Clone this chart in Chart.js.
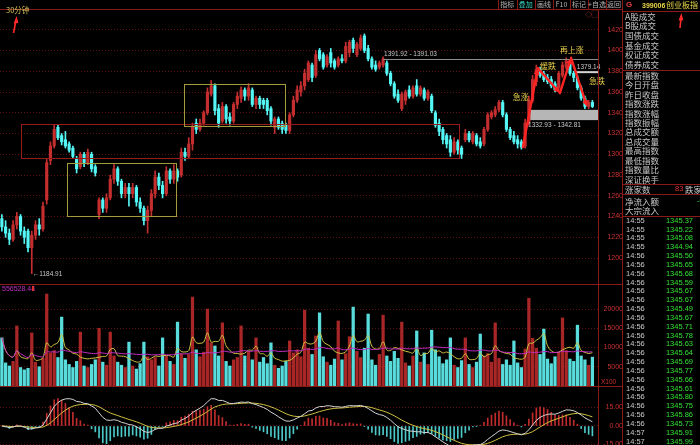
<!DOCTYPE html>
<html>
<head>
<meta charset="utf-8">
<title>399006 创业板指 30分钟</title>
<script src="https://cdn.jsdelivr.net/npm/chart.js@4.4.1/dist/chart.umd.min.js"></script>
<style>
  html, body { margin: 0; padding: 0; background: #000; }
  #wrap { position: relative; width: 700px; height: 445px; overflow: hidden; background: #000; }
  canvas { position: absolute; left: 0; }
  .t { position: absolute; white-space: nowrap; font-family: "Noto Sans CJK SC", sans-serif; }
  .n { font-family: "Liberation Sans", Arial, sans-serif; }
  svg { position: absolute; left: 0; top: 0; }
</style>
</head>
<body>
<div id="wrap">
  <canvas id="price" width="623" height="275" style="top:9px"></canvas>
  <canvas id="vol" width="623" height="102" style="top:284px"></canvas>
  <canvas id="macd" width="623" height="59" style="top:386px"></canvas>
</div>
<script>
// 30 minute candles, index 0..158
const O = [
  1238,1230,1224,1218,1232,1240,1226,1226,1210,1222,
  1232,1228,1256,1294,1308,1326,1318,1314,1310,1306,
  1296,1288,1300,1292,1300,1288,1242,1256,1248,1258,
  1276,1286,1274,1262,1268,1262,1268,1254,1248,1236,
  1246,1262,1278,1270,1262,1284,1276,1284,1280,1302,
  1298,1310,1330,1324,1330,1340,1358,1366,1344,1332,
  1346,1336,1332,1348,1354,1362,1356,1362,1348,1354,
  1352,1352,1344,1326,1334,1330,1328,1323,1338,1352,
  1360,1366,1372,1386,1376,1400,1396,1386,1398,1390,
  1386,1392,1390,1398,1410,1396,1402,1414,1402,1392,
  1386,1384,1386,1388,1378,1368,1358,1344,1352,1362,
  1356,1366,1358,1362,1354,1356,1340,1330,1324,1318,
  1314,1302,1312,1306,1314,1320,1312,1318,1312,1310,
  1324,1336,1338,1343,1350,1338,1324,1318,1314,1312,
  1308,1330,1352,1370,1382,1378,1374,1372,1368,1364,
  1376,1384,1388,1378,1374,1364,1354,1346,1350
];
const H = [
  1242,1236,1228,1236,1244,1242,1230,1228,1226,1236,
  1238,1254,1295,1312,1328,1328,1320,1322,1312,1308,
  1298,1302,1302,1305,1302,1290,1258,1258,1262,1280,
  1290,1288,1276,1272,1272,1272,1270,1258,1250,1250,
  1266,1284,1282,1274,1288,1286,1290,1286,1306,1306,
  1316,1330,1334,1334,1342,1364,1371,1368,1348,1350,
  1348,1340,1350,1360,1365,1364,1368,1364,1356,1356,
  1354,1354,1346,1336,1336,1332,1330,1340,1356,1366,
  1370,1382,1390,1388,1400,1402,1398,1396,1402,1392,
  1394,1396,1408,1410,1412,1408,1415,1416,1405,1394,
  1390,1390,1394,1390,1380,1370,1362,1360,1362,1366,
  1366,1372,1366,1364,1362,1358,1342,1334,1326,1320,
  1318,1316,1314,1308,1324,1322,1322,1320,1316,1326,
  1340,1342,1346,1352,1352,1340,1326,1322,1318,1314,
  1334,1356,1376,1386,1384,1380,1377,1375,1370,1380,
  1389,1393,1390,1380,1376,1366,1356,1352,1352
];
const L = [
  1226,1220,1213,1216,1228,1222,1214,1206,1185,1218,
  1222,1226,1252,1290,1306,1314,1309,1306,1302,1296,
  1282,1286,1288,1290,1283,1279,1238,1244,1244,1256,
  1272,1270,1258,1258,1250,1258,1250,1244,1232,1224,
  1240,1258,1266,1258,1260,1272,1272,1274,1278,1294,
  1296,1304,1320,1322,1328,1338,1356,1338,1326,1330,
  1330,1328,1330,1344,1350,1352,1352,1346,1344,1344,
  1344,1338,1328,1320,1324,1320,1320,1320,1336,1350,
  1356,1362,1370,1370,1374,1390,1382,1384,1384,1382,
  1384,1388,1388,1394,1398,1394,1400,1398,1390,1382,
  1380,1382,1384,1376,1366,1354,1350,1342,1348,1354,
  1354,1356,1356,1352,1352,1340,1326,1318,1310,1306,
  1298,1300,1300,1296,1312,1312,1310,1308,1306,1308,
  1322,1334,1336,1341,1336,1322,1314,1310,1306,1305,
  1306,1328,1350,1366,1374,1370,1368,1364,1360,1362,
  1374,1382,1376,1370,1362,1352,1344,1344,1345
];
const C = [
  1230,1224,1218,1232,1240,1226,1220,1210,1222,1232,
  1228,1250,1292,1308,1324,1316,1312,1308,1304,1298,
  1286,1300,1292,1302,1286,1282,1256,1248,1258,1276,
  1286,1274,1262,1268,1262,1268,1254,1248,1236,1246,
  1262,1278,1270,1262,1284,1276,1284,1278,1302,1298,
  1310,1326,1324,1330,1340,1360,1366,1342,1330,1346,
  1334,1332,1348,1356,1362,1356,1364,1348,1354,1348,
  1348,1342,1332,1334,1326,1324,1323,1338,1352,1362,
  1366,1378,1388,1374,1396,1392,1384,1394,1388,1384,
  1392,1390,1404,1408,1402,1406,1412,1400,1392,1384,
  1382,1388,1392,1378,1368,1356,1352,1358,1360,1356,
  1364,1358,1364,1354,1360,1342,1328,1322,1314,1310,
  1302,1312,1304,1300,1320,1314,1320,1310,1308,1324,
  1338,1340,1343,1350,1338,1324,1316,1312,1310,1307,
  1330,1352,1372,1382,1376,1372,1370,1366,1362,1378,
  1386,1390,1378,1374,1364,1354,1346,1350,1346
];
// volume (x100)
const V = [
  12500,6000,5200,6400,15600,4800,4200,4600,13800,6200,
  5000,7200,23900,8600,9200,7400,17900,6800,5600,4800,
  6400,14000,5200,4800,5600,6800,15000,6200,5400,14000,
  7800,6200,5400,4800,11400,5200,4400,5800,11400,7600,
  6800,7400,5200,12500,7800,6400,5600,16600,8400,7200,
  8200,23100,9400,7600,8800,20000,11200,10400,7800,16400,
  6400,5200,6800,7400,15600,7800,9000,6800,12500,6200,
  7400,5800,11200,5400,4600,5200,6400,11700,8600,9400,
  7600,19700,9800,8200,13000,19000,7600,6200,5400,7000,
  16900,6800,8400,12800,20500,9000,7400,9800,18700,6800,
  5400,8200,18400,7800,6400,9000,7200,16600,6000,5200,
  7800,14300,6200,8600,5600,14500,9400,7600,5800,6800,
  12500,5400,4800,6600,12500,5600,4800,6200,13500,7800,
  8400,6200,16400,7200,5600,6800,5400,11700,6000,4800,
  9600,22800,12400,9800,8200,14800,7000,5800,7600,8800,
  17700,9200,7000,6400,15800,7800,6800,5400,7500
];

const priceTicks = [1200, 1220, 1240, 1260, 1280, 1300, 1320, 1340, 1360, 1380, 1400, 1420];
const volTicks = [5000, 10000, 15000, 20000];
const macdTicks = [-15, 0, 15];

// drawn marks in data units: [index from, index to, price low, price high]
const redBox = [5.1, 122.3, 1296.5, 1329.3];
const boxA = [17.4, 46.6, 1240.5, 1291.7];
const boxB = [48.7, 75.8, 1327.4, 1367.9];
const supportBand = [140.8, 1332.93, 1342.81];
const highLine = [102, 1391.92];
const lastHigh = [153.3, 1379.14];
const lowMark = [8, 1184.91];
const arrowPts = [[139.4, 1307], [143.4, 1383], [149.3, 1359], [152.3, 1393], [156.6, 1345.7]];
const notes = [['急涨', 138.8, 1355.5], ['缓跌', 146.1, 1385], ['再上涨', 152.5, 1401], ['急跌', 159.2, 1371]];

// right panel text
const groupA = ['A股成交', 'B股成交', '国债成交', '基金成交', '权证成交', '债券成交'];
const groupB = ['最新指数', '今日开盘', '昨日收盘', '指数涨跌', '指数涨幅', '指数振幅', '总成交额', '总成交量', '最高指数', '最低指数', '指数量比', '深证换手'];
const tickTimes = ['14:55','14:55','14:55','14:55','14:56','14:56','14:56','14:56','14:56','14:56','14:56','14:56','14:56',
  '14:56','14:56','14:56','14:56','14:56','14:56','14:56','14:56','14:56','14:56','14:56','14:57','14:57'];
const tickValues = ['1345.37','1345.22','1345.08','1344.94','1345.50','1345.65','1345.68','1345.59','1345.67','1345.67','1345.49','1345.67','1345.71',
  '1345.78','1345.63','1345.64','1345.69','1345.77','1345.66','1345.61','1345.80','1345.75','1345.86','1345.73','1345.91','1345.99'];
const toolButtons = ['指标', '叠加', '画线', 'F10', '标记', '+自选', '返回'];

const RED = '#c42e2e', CYAN = '#54f6f6';
const VRED = '#a82626', VCYAN = '#58dcdc';
const idx = C.map((_, i) => i);
const up = i => C[i] >= O[i];

function movAvg(arr, n) {
  return arr.map((_, i) => {
    const s = arr.slice(Math.max(0, i - n + 1), i + 1);
    return s.reduce((a, b) => a + b, 0) / s.length;
  });
}
function ema(arr, n) {
  const out = [];
  arr.forEach((v, i) => out.push(i ? (2 * v + (n - 1) * out[i - 1]) / (n + 1) : v));
  return out;
}
const e12 = ema(C, 12), e26 = ema(C, 26);
const dif = C.map((_, i) => e12[i] - e26[i]);
const dea = ema(dif, 9);
const hist = dif.map((d, i) => 2 * (d - dea[i]));
const ma5 = movAvg(V, 5), ma40 = movAvg(V, 40);

function rightAxis(min, max, ticks, fmt) {
  return {
    position: 'right', min: min, max: max,
    afterBuildTicks: s => { s.ticks = ticks.map(v => ({ value: v })); },
    afterFit: s => { s.width = 25; s.paddingTop = 0; s.paddingBottom = 0; },
    ticks: { color: '#c83232', font: { size: 7, family: 'Liberation Sans' }, padding: 1, crossAlign: 'far', callback: fmt },
    grid: { color: '#5a1212', lineWidth: 1, drawTicks: false },
    border: { display: false, dash: [1, 2] }
  };
}
const xAxis = { type: 'linear', min: -0.5, max: 159.5, display: false, offset: false };
const common = {
  responsive: false, animation: false, events: [],
  layout: { padding: 0 },
  plugins: { legend: { display: false }, tooltip: { enabled: false } }
};

const overlayPrice = {
  id: 'overlayPrice',
  beforeDatasetsDraw(chart) {
    const { ctx, scales: { x, y }, chartArea } = chart;
    const x0 = x.getPixelForValue(supportBand[0]);
    const yt = y.getPixelForValue(supportBand[2]), yb = y.getPixelForValue(supportBand[1]);
    ctx.save();
    ctx.fillStyle = '#b6b6b6';
    ctx.fillRect(x0, yt, chartArea.right - x0, yb - yt);
    ctx.restore();
  },
  afterDatasetsDraw(chart) {
    const { ctx, scales: { x, y }, chartArea } = chart;
    const px = v => x.getPixelForValue(v), py = v => y.getPixelForValue(v);
    ctx.save();
    function box(b, color) {
      ctx.strokeStyle = color;
      ctx.lineWidth = 1;
      const l = Math.round(px(b[0])) + 0.5, t = Math.round(py(b[3])) + 0.5;
      ctx.strokeRect(l, t, Math.round(px(b[1]) - px(b[0])), Math.round(py(b[2]) - py(b[3])));
    }
    box(redBox, '#961c1c');
    box(boxA, '#a49c3c');
    box(boxB, '#a49c3c');

    ctx.font = '6.5px "Liberation Sans"';
    ctx.textBaseline = 'middle';
    ctx.fillStyle = '#c8c8c8';
    // band label
    ctx.fillText('1332.93 - 1342.81', px(supportBand[0]), py(supportBand[1]) + 5);
    // high line
    let yy = Math.round(py(highLine[1])) + 0.5;
    ctx.strokeStyle = '#8e8e8e';
    ctx.beginPath(); ctx.moveTo(px(highLine[0]), yy); ctx.lineTo(chartArea.right, yy); ctx.stroke();
    ctx.fillText('1391.92 - 1391.03', px(highLine[0]) + 1, yy - 5);
    // last high
    yy = py(lastHigh[1]);
    ctx.fillStyle = '#d2d2d2';
    ctx.fillRect(px(lastHigh[0]), yy - 1, chartArea.right - px(lastHigh[0]), 2);
    ctx.fillStyle = '#c8c8c8';
    ctx.fillText('1379.14', px(lastHigh[0]) + 2, yy - 5);
    // low
    ctx.fillText('\u21901184.91', px(lowMark[0]) + 1, py(lowMark[1]));

    // arrows
    ctx.strokeStyle = '#ff2424';
    ctx.fillStyle = '#ff2424';
    ctx.lineWidth = 2.4;
    ctx.lineCap = 'round';
    for (let k = 1; k < arrowPts.length; k++) {
      const x0 = px(arrowPts[k - 1][0]), y0 = py(arrowPts[k - 1][1]);
      const x1 = px(arrowPts[k][0]), y1 = py(arrowPts[k][1]);
      const a = Math.atan2(y1 - y0, x1 - x0), h = 7;
      ctx.beginPath(); ctx.moveTo(x0, y0); ctx.lineTo(x1 - 4 * Math.cos(a), y1 - 4 * Math.sin(a)); ctx.stroke();
      ctx.beginPath();
      ctx.moveTo(x1, y1);
      ctx.lineTo(x1 - h * Math.cos(a - 0.45), y1 - h * Math.sin(a - 0.45));
      ctx.lineTo(x1 - h * Math.cos(a + 0.45), y1 - h * Math.sin(a + 0.45));
      ctx.closePath(); ctx.fill();
    }
    // notes
    ctx.font = '8px "Noto Sans CJK SC"';
    ctx.textAlign = 'center';
    ctx.fillStyle = '#e6d04a';
    notes.forEach(n => ctx.fillText(n[0], px(n[1]), py(n[2])));
    ctx.restore();
  }
};

new Chart(document.getElementById('price'), {
  type: 'bar',
  data: {
    datasets: [
      { data: idx.map(i => ({ x: i, y: [L[i], H[i]] })), backgroundColor: c => up(c.dataIndex) ? RED : CYAN, barThickness: 1, grouped: false, order: 2 },
      { data: idx.map(i => ({ x: i, y: [O[i], C[i]] })), backgroundColor: c => up(c.dataIndex) ? RED : CYAN, barThickness: 2.5, grouped: false, order: 1, minBarLength: 1 }
    ]
  },
  options: Object.assign({}, common, {
    scales: { x: xAxis, y: rightAxis(1175, 1440, priceTicks, v => v) }
  }),
  plugins: [overlayPrice]
});

new Chart(document.getElementById('vol'), {
  type: 'bar',
  data: {
    datasets: [
      { type: 'line', data: idx.map(i => ({ x: i, y: ma5[i] })), borderColor: '#cfc444', borderWidth: 1, pointRadius: 0, tension: 0.35, order: 1 },
      { type: 'line', data: idx.map(i => ({ x: i, y: ma40[i] })), borderColor: '#c02cc0', borderWidth: 1, pointRadius: 0, tension: 0.35, order: 0 },
      { data: idx.map(i => ({ x: i, y: V[i] })), backgroundColor: c => up(c.dataIndex) ? VRED : VCYAN, barThickness: 2.6, grouped: false, order: 2 }
    ]
  },
  options: Object.assign({}, common, {
    scales: { x: xAxis, y: rightAxis(0, 26500, volTicks, v => v) }
  })
});

new Chart(document.getElementById('macd'), {
  type: 'bar',
  data: {
    datasets: [
      { type: 'line', data: idx.map(i => ({ x: i, y: dif[i] })), borderColor: '#d4d4d4', borderWidth: 1, pointRadius: 0, order: 0 },
      { type: 'line', data: idx.map(i => ({ x: i, y: dea[i] })), borderColor: '#cfc040', borderWidth: 1, pointRadius: 0, order: 1 },
      { data: idx.map(i => ({ x: i, y: hist[i] })), backgroundColor: c => hist[c.dataIndex] >= 0 ? '#c02c2c' : '#4cc8c8', barThickness: 1, grouped: false, order: 2 }
    ]
  },
  options: Object.assign({}, common, {
    scales: { x: xAxis, y: rightAxis(-15.4, 32.4, macdTicks, v => v.toFixed(2)) }
  })
});

// ---- frame, panel text ----
const wrap = document.getElementById('wrap');
function put(txt, x, y, size, color, cls, right) {
  const d = document.createElement('div');
  d.className = 't ' + (cls || '');
  d.textContent = txt;
  d.style.fontSize = size + 'px';
  d.style.lineHeight = size + 'px';
  d.style.top = (y - size / 2) + 'px';
  d.style.color = color;
  if (right) d.style.right = (700 - x) + 'px'; else d.style.left = x + 'px';
  wrap.appendChild(d);
  return d;
}
function rule(x, y, w, h, color) {
  const d = document.createElement('div');
  d.style.cssText = 'position:absolute;left:' + x + 'px;top:' + y + 'px;width:' + w + 'px;height:' + h + 'px;background:' + (color || '#8a1a1a');
  wrap.appendChild(d);
}
rule(0, 9, 623, 1);
rule(0, 284, 623, 1);
rule(0, 386, 623, 1);
rule(598, 9, 1, 436);
rule(622, 0, 1, 445);
[11, 70, 184, 194, 216].forEach(y => rule(623, y, 77, 1));

// toolbar
const cuts = [498, 516.5, 535, 553, 570, 588, 606, 622];
toolButtons.forEach((b, k) => {
  rule(cuts[k], 0, 1, 9);
  const d = put(b, cuts[k], 4.5, 7, k === 1 ? '#38d8c0' : '#b4b4b4');
  d.style.width = (cuts[k + 1] - cuts[k]) + 'px';
  d.style.textAlign = 'center';
});
put('\u25c7', 585, 14, 7, '#c03030');
put('\u25a1', 591, 14, 8, '#c03030');

put('30分钟', 6, 10, 7.5, '#d8c058');
put('556528.44', 2, 288.5, 7, '#c030c8', 'n');
rule(32, 286, 1.5, 5, '#e03030');
put('X100', 601, 382, 6.5, '#c83232', 'n');

// right panel
put('G', 626, 5, 8, '#e03c3c', 'n').style.fontWeight = 'bold';
put('399006', 642, 5, 7, '#e8d848', 'n').style.fontWeight = 'bold';
put('创业板指', 666, 5, 8, '#e8d848');
groupA.forEach((s, k) => put(s, 625, 16 + k * 9.6, 8.5, '#c8c8c8'));
groupB.forEach((s, k) => put(s, 625, 75 + k * 9.45, 8.5, '#c8c8c8'));
put('涨家数', 625, 189, 8.5, '#c8c8c8');
put('83', 675, 189, 7.5, '#e03030', 'n');
put('跌家数', 685, 189, 8.5, '#c8c8c8');
put('净流入额', 625, 201, 8.5, '#c8c8c8');
put('-0.12', 697, 201, 7.5, '#30e030', 'n');
put('大宗流入', 625, 210, 8.5, '#c8c8c8');
tickTimes.forEach((t, k) => {
  const y = 220.5 + k * 8.83;
  put(t, 626, y, 7.5, '#c8c8c8', 'n');
  put(tickValues[k], 693, y, 7.5, '#34e034', 'n', true);
});

// hand-drawn red arrows
const svg = '<svg width="700" height="445" xmlns="http://www.w3.org/2000/svg">' +
  '<line x1="13.5" y1="33" x2="15.8" y2="21" stroke="#ff2a2a" stroke-width="1.6"/>' +
  '<polygon points="16.6,16 13.6,23.5 18.4,23" fill="#ff2a2a"/>' +
  '<line x1="680" y1="28" x2="681" y2="18" stroke="#ff2a2a" stroke-width="1.6"/>' +
  '<polygon points="681.3,13 678.6,20.5 683.4,20.3" fill="#ff2a2a"/>' +
  '</svg>';
wrap.insertAdjacentHTML('beforeend', svg);
</script>
</body>
</html>
